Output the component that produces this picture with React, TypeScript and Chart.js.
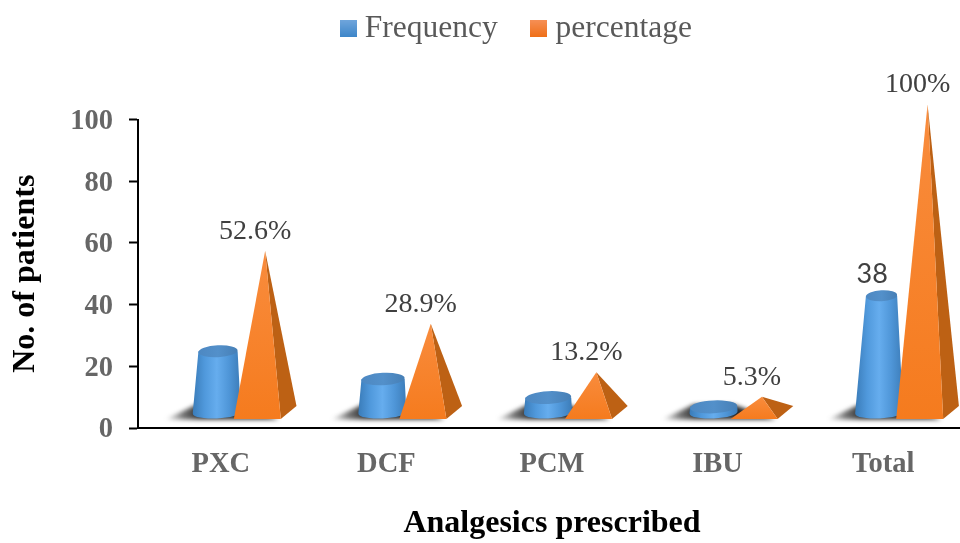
import React, { useEffect, useRef } from "react";
import { Chart, registerables } from "chart.js";

Chart.register(...registerables);

const categories = ["PXC", "DCF", "PCM", "IBU", "Total"];
const frequency = [20, 11, 5, 2, 38];
const percentage = [52.6, 28.9, 13.2, 5.3, 100];
const frequencyLabels = ["", "", "", "", "38"];
const seriesNames = ["Frequency", "percentage"];
const yTicks = [0, 20, 40, 60, 80, 100];

const SERIF = "'Liberation Serif', 'Times New Roman', serif";
const BAR_SHIFT = 16.25;
const FLOOR_RISE = 15;
const FRONT_DROP = 5.5;
const DEPTH_X = 15.7;
const DEPTH_Y = 13;

function swatch(top: string, bottom: string) {
  const c = document.createElement("canvas");
  c.width = 17;
  c.height = 17;
  const g = c.getContext("2d")!;
  const fill = g.createLinearGradient(0, 0, 0, 17);
  fill.addColorStop(0, top);
  fill.addColorStop(1, bottom);
  g.fillStyle = fill;
  g.fillRect(0, 0, 17, 17);
  return c;
}

function drawShadow(ctx: CanvasRenderingContext2D, cx: number, base: number) {
  const floor = base - FLOOR_RISE;
  ctx.save();
  ctx.filter = "blur(2px)";
  const fill = ctx.createLinearGradient(cx - 52, 0, cx - 18, 0);
  fill.addColorStop(0, "rgba(70,70,70,0)");
  fill.addColorStop(0.55, "rgba(70,70,70,0.75)");
  fill.addColorStop(1, "rgba(45,45,45,1)");
  ctx.fillStyle = fill;
  ctx.beginPath();
  ctx.moveTo(cx - 52, floor + 7);
  ctx.lineTo(cx - 20, floor - 8);
  ctx.lineTo(cx + 20, floor - 8);
  ctx.lineTo(cx + 62, floor + 7);
  ctx.closePath();
  ctx.fill();
  ctx.restore();
}

function drawCylinder(ctx: CanvasRenderingContext2D, cx: number, y: number, base: number) {
  const by = base - FLOOR_RISE;
  const ty = y - FLOOR_RISE;
  const h = by - ty;
  const brx = 24;
  const bry = 6;
  const trx = 24 - 0.072 * h;
  const capRy = 3.5 + 0.125 * trx;
  const tx = cx + 0.02 * h;
  const tilt = -0.05;

  const side = ctx.createLinearGradient(cx - brx, 0, cx + brx, 0);
  side.addColorStop(0, "#3a7cb9");
  side.addColorStop(0.25, "#5099dc");
  side.addColorStop(0.5, "#66adee");
  side.addColorStop(0.75, "#4f96d8");
  side.addColorStop(1, "#3c7cb8");
  ctx.fillStyle = side;
  ctx.beginPath();
  ctx.moveTo(tx - trx, ty);
  ctx.lineTo(cx - brx, by);
  ctx.ellipse(cx, by, brx, bry, tilt, Math.PI, 0, true);
  ctx.lineTo(tx + trx, ty);
  ctx.closePath();
  ctx.fill();

  const cap = ctx.createLinearGradient(tx - trx, 0, tx + trx, 0);
  cap.addColorStop(0, "#4d88c2");
  cap.addColorStop(0.5, "#5390ca");
  cap.addColorStop(1, "#467fb6");
  ctx.fillStyle = cap;
  ctx.beginPath();
  ctx.ellipse(tx, ty, trx, capRy, tilt, 0, Math.PI * 2);
  ctx.fill();
}

function drawPyramid(ctx: CanvasRenderingContext2D, cx: number, y: number, base: number) {
  const halfWidth = 23.5;
  const frontY = base - FLOOR_RISE + FRONT_DROP + 1;
  const backY = frontY - DEPTH_Y;
  const apexX = cx + DEPTH_X / 2;
  const apexY = y - FLOOR_RISE;

  ctx.fillStyle = "#bd6114";
  ctx.beginPath();
  ctx.moveTo(apexX, apexY);
  ctx.lineTo(cx + halfWidth, frontY);
  ctx.lineTo(cx + halfWidth + DEPTH_X, backY);
  ctx.closePath();
  ctx.fill();

  const front = ctx.createLinearGradient(0, apexY, 0, frontY);
  front.addColorStop(0, "#f98c3d");
  front.addColorStop(1, "#f57b1e");
  ctx.fillStyle = front;
  ctx.beginPath();
  ctx.moveTo(apexX, apexY);
  ctx.lineTo(cx - halfWidth, frontY);
  ctx.lineTo(cx + halfWidth, frontY);
  ctx.closePath();
  ctx.fill();
}

// Bars stay invisible for layout purposes; this paints their 3D shapes.
const solidsPlugin = {
  id: "solids",
  beforeDraw(chart: any) {
    // Centre the value-axis numerals optically on their tick marks.
    chart.scales.y.getLabelItems().forEach((item: any) => {
      item.options.translation[1] += 2;
    });
  },
  afterDatasetsDraw(chart: any) {
    const ctx: CanvasRenderingContext2D = chart.ctx;
    const cylinders = chart.getDatasetMeta(0).data;
    const pyramids = chart.getDatasetMeta(1).data;
    categories.forEach((_, i) => {
      const c = cylinders[i];
      drawShadow(ctx, c.x + BAR_SHIFT, c.base);
    });
    categories.forEach((_, i) => {
      const c = cylinders[i];
      const p = pyramids[i];
      drawCylinder(ctx, c.x + BAR_SHIFT, c.y, c.base);
      drawPyramid(ctx, p.x + BAR_SHIFT, p.y, p.base);

      ctx.fillStyle = "#404040";
      ctx.textAlign = "center";
      ctx.textBaseline = "middle";
      ctx.font = `28px ${SERIF}`;
      ctx.fillText(`${percentage[i]}%`, p.x + BAR_SHIFT + DEPTH_X / 2 - 10, p.y - FLOOR_RISE - 19.5);
      if (frequencyLabels[i]) {
        ctx.font = "27px Lato, sans-serif";
        ctx.fillText(frequencyLabels[i], c.x + BAR_SHIFT - 7, c.y - FLOOR_RISE - 21);
      }
    });
  },
};

// The legend is centred over the plot and sits above the reserved header band.
const legendOffsetPlugin = {
  id: "legendOffset",
  afterLayout(chart: any) {
    chart.legend.left += 36.5;
    chart.legend.right += 36.5;
    chart.legend.top -= 65;
    chart.legend.bottom -= 65;
  },
};

export default function App() {
  const ref = useRef<HTMLCanvasElement>(null);

  useEffect(() => {
    const swatches = [swatch("#6fa5dc", "#3d86c9"), swatch("#f68f55", "#ef6f17")];
    const chart = new Chart(ref.current!, {
      type: "bar",
      data: {
        labels: categories,
        datasets: [
          { label: seriesNames[0], data: frequency, backgroundColor: "transparent", barThickness: 40.5 },
          { label: seriesNames[1], data: percentage, backgroundColor: "transparent", barThickness: 40.5 },
        ],
      },
      options: {
        responsive: false,
        animation: false,
        layout: { padding: { top: 38, left: 0, right: 0, bottom: 0 } },
        plugins: {
          tooltip: { enabled: false },
          legend: {
            position: "top",
            labels: {
              usePointStyle: true,
              pointStyleWidth: 2,
              padding: 40,
              color: "#595959",
              font: { family: SERIF, size: 31.5 },
              generateLabels: () =>
                seriesNames.map((text, i) => ({
                  text,
                  pointStyle: swatches[i],
                  datasetIndex: i,
                  fontColor: "#595959",
                  lineWidth: 0,
                })),
            },
          },
        },
        scales: {
          x: {
            grid: { display: false, drawTicks: false },
            border: { color: "#000", width: 2 },
            ticks: {
              color: "#666666",
              padding: 20,
              font: { family: SERIF, size: 28.5, weight: "bold" },
            },
            title: {
              display: true,
              text: "Analgesics prescribed",
              color: "#000",
              padding: { top: 30, bottom: 0 },
              font: { family: SERIF, size: 32, weight: "bold" },
            },
            afterFit(scale: any) {
              scale.height = 115;
            },
          },
          y: {
            min: 0,
            max: 100,
            afterBuildTicks(scale: any) {
              scale.ticks = yTicks.map((value) => ({ value }));
            },
            grid: { display: true, drawOnChartArea: false, tickColor: "#000", tickLength: 9, tickWidth: 2 },
            border: { color: "#000", width: 2 },
            ticks: {
              color: "#666666",
              padding: 16,
              font: { family: SERIF, size: 28.5, weight: "bold" },
            },
            title: {
              display: true,
              text: "No. of patients",
              color: "#000",
              padding: { top: 7, bottom: 0 },
              font: { family: SERIF, size: 32, weight: "bold" },
            },
            afterFit(scale: any) {
              scale.width = 138;
            },
          },
        },
      },
      plugins: [solidsPlugin, legendOffsetPlugin],
    } as any);
    return () => chart.destroy();
  }, []);

  return (
    <div style={{ position: "absolute", left: 0, top: 0, width: 960, height: 543, overflow: "hidden", background: "#fff" }}>
      <canvas ref={ref} width={966} height={543} style={{ display: "block" }} />
    </div>
  );
}
